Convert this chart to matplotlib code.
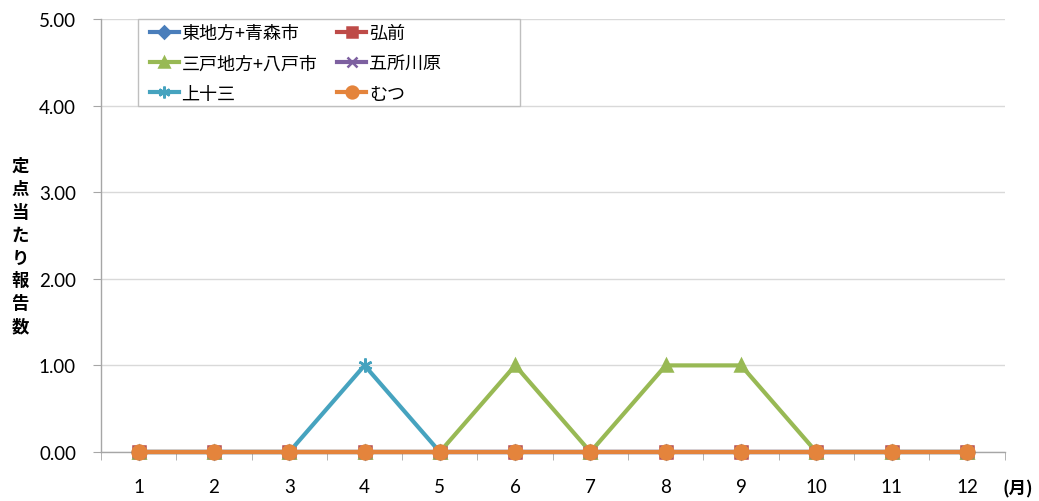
import matplotlib
matplotlib.use("Agg")
import matplotlib.pyplot as plt
from matplotlib.ticker import FixedLocator
from matplotlib.patches import Rectangle

plt.rcParams['font.family'] = ['Noto Sans CJK JP', 'DejaVu Sans']

months = [1, 2, 3, 4, 5, 6, 7, 8, 9, 10, 11, 12]
month_labels = [str(m) for m in months]
yticks = [0, 1, 2, 3, 4, 5]

higashi = [0, 0, 0, 0, 0, 0, 0, 0, 0, 0, 0, 0]
hirosaki = [0, 0, 0, 0, 0, 0, 0, 0, 0, 0, 0, 0]
sannohe = [0, 0, 0, 0, 0, 1, 0, 1, 1, 0, 0, 0]
goshogawara = [0, 0, 0, 0, 0, 0, 0, 0, 0, 0, 0, 0]
kamitosa = [0, 0, 0, 1, 0, 0, 0, 0, 0, 0, 0, 0]
mutsu = [0, 0, 0, 0, 0, 0, 0, 0, 0, 0, 0, 0]

series = [
    ("東地方+青森市", higashi, "#4A7EBB", "D", 7.5),
    ("弘前", hirosaki, "#BE4B48", "s", 8),
    ("三戸地方+八戸市", sannohe, "#98B954", "^", 9),
    ("五所川原", goshogawara, "#7D60A0", "x", 8),
    ("上十三", kamitosa, "#46A3BF", (6, 2, 0), 10),
    ("むつ", mutsu, "#E4843C", "o", 10),
]

W, H = 1039, 502
fig = plt.figure(figsize=(W / 100, H / 100), dpi=100)
ax = fig.add_axes([101 / W, 49 / H, (1004.6 - 101) / W, (453 - 20) / H])

handles = {}
for name, vals, col, mk, ms in series:
    h, = ax.plot(months, vals, color=col, lw=3.0, marker=mk, markersize=ms,
                 markerfacecolor=col, markeredgecolor=col, markeredgewidth=1.8,
                 label=name, clip_on=False, zorder=3)
    handles[name] = h

ax.set_xlim(0.5, 12.5)
ax.set_ylim(0, 5)
ax.set_yticks(yticks)
ax.set_yticklabels([f"{v:.2f}" for v in yticks], fontfamily='Lato', fontsize=13.5)
ax.set_xticks(months)
ax.set_xticklabels(month_labels, fontfamily='Lato', fontsize=13.5)
ax.xaxis.set_minor_locator(FixedLocator([m + 0.5 for m in [0] + months]))
ax.tick_params(axis='x', which='major', length=0, pad=19)
ax.tick_params(axis='x', which='minor', length=6, color='#A6A6A6', direction='out')
ax.tick_params(axis='y', length=6, color='#A6A6A6', direction='out', pad=12)
ax.grid(axis='y', color='#D9D9D9', lw=1)
ax.set_axisbelow(True)
for s in ['top', 'right']:
    ax.spines[s].set_visible(False)
for s in ['left', 'bottom']:
    ax.spines[s].set_color('#A6A6A6')
    ax.spines[s].set_linewidth(1)

# legend frame box
rect = Rectangle((138 / W, 1 - 107 / H), (520 - 138) / W, (107 - 20) / H,
                 transform=fig.transFigure, facecolor='white', edgecolor='#BFBFBF',
                 lw=1, zorder=4, clip_on=False)
ax.add_artist(rect)

order = ["東地方+青森市", "三戸地方+八戸市", "上十三", "弘前", "五所川原", "むつ"]
leg = ax.legend([handles[n] for n in order], order, ncol=2, loc='upper left',
                bbox_to_anchor=(150 / W, 1 - 25 / H), bbox_transform=fig.transFigure,
                frameon=False, fontsize=13, handlelength=1.6, handletextpad=0.15,
                columnspacing=1.1, labelspacing=0.68, borderpad=0.0,
                borderaxespad=0, markerscale=0.85)
leg.set_zorder(5)

fig.text(20 / W, 1 - 247 / H, "\n".join("定点当たり報告数"), ha='center', va='center',
         fontsize=12.5, fontweight='bold', linespacing=1.35)
fig.text(1018 / W, 1 - 489 / H, "(月)", ha='center', va='center',
         fontsize=12.5, fontweight='bold')

fig.savefig("out.png", dpi=100)
